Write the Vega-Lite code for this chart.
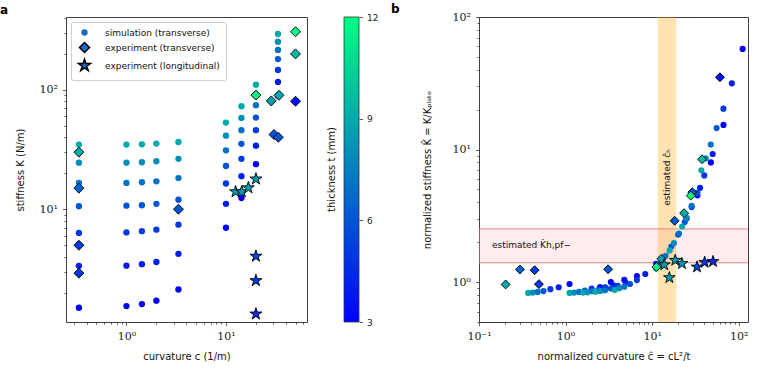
{
  "$schema": "https://vega.github.io/schema/vega-lite/v6.json",
  "background": "white",
  "padding": {"left": -1, "top": 2, "right": 5, "bottom": 5},
  "config": {
    "font": "DejaVu Sans",
    "view": {"stroke": "#404040", "strokeWidth": 1},
    "axis": {
      "domain": false,
      "grid": false,
      "labelFont": "DejaVu Serif",
      "labelFontSize": 11,
      "labelColor": "#222222",
      "labelPadding": 2,
      "labelOverlap": false,
      "labelFlush": false,
      "tickColor": "#333333",
      "tickWidth": 0.8,
      "tickSize": 3.5,
      "titleFont": "DejaVu Sans",
      "titleFontSize": 10,
      "titleFontWeight": "normal",
      "titleColor": "#111111"
    },
    "axisX": {"labelPadding": 5, "titlePadding": 10},
    "axisY": {"labelPadding": 5},
    "legend": {
      "orient": "top-left",
      "offset": 5,
      "padding": 6,
      "strokeColor": "#cfcfcf",
      "fillColor": "rgba(255,255,255,0.85)",
      "cornerRadius": 2,
      "labelFont": "DejaVu Sans",
      "labelFontSize": 9,
      "labelColor": "#111111",
      "labelOffset": 13,
      "rowPadding": 0.5,
      "symbolFillColor": "#1d68c6",
      "symbolBaseFillColor": "#1d68c6"
    }
  },
  "datasets": {
    "pts": [
      {"kind": "simulation (transverse)", "t": 9, "c": 0.333, "K": 34.7, "ch": 0.370, "Kh": 0.829},
      {"kind": "simulation (transverse)", "t": 8, "c": 0.333, "K": 24.5, "ch": 0.417, "Kh": 0.834},
      {"kind": "simulation (transverse)", "t": 7, "c": 0.333, "K": 16.6, "ch": 0.476, "Kh": 0.843},
      {"kind": "simulation (transverse)", "t": 6, "c": 0.333, "K": 10.6, "ch": 0.556, "Kh": 0.855},
      {"kind": "simulation (transverse)", "t": 5, "c": 0.333, "K": 6.34, "ch": 0.667, "Kh": 0.884},
      {"kind": "simulation (transverse)", "t": 4, "c": 0.333, "K": 3.36, "ch": 0.833, "Kh": 0.915},
      {"kind": "simulation (transverse)", "t": 3, "c": 0.333, "K": 1.50, "ch": 1.111, "Kh": 0.968},
      {"kind": "simulation (transverse)", "t": 9, "c": 1.0, "K": 34.7, "ch": 1.111, "Kh": 0.829},
      {"kind": "simulation (transverse)", "t": 8, "c": 1.0, "K": 24.5, "ch": 1.25, "Kh": 0.834},
      {"kind": "simulation (transverse)", "t": 7, "c": 1.0, "K": 16.6, "ch": 1.429, "Kh": 0.843},
      {"kind": "simulation (transverse)", "t": 6, "c": 1.0, "K": 10.7, "ch": 1.667, "Kh": 0.863},
      {"kind": "simulation (transverse)", "t": 5, "c": 1.0, "K": 6.40, "ch": 2.0, "Kh": 0.892},
      {"kind": "simulation (transverse)", "t": 4, "c": 1.0, "K": 3.37, "ch": 2.5, "Kh": 0.917},
      {"kind": "simulation (transverse)", "t": 3, "c": 1.0, "K": 1.55, "ch": 3.333, "Kh": 1.0},
      {"kind": "simulation (transverse)", "t": 9, "c": 1.43, "K": 34.9, "ch": 1.589, "Kh": 0.834},
      {"kind": "simulation (transverse)", "t": 8, "c": 1.43, "K": 24.7, "ch": 1.788, "Kh": 0.840},
      {"kind": "simulation (transverse)", "t": 7, "c": 1.43, "K": 16.8, "ch": 2.043, "Kh": 0.853},
      {"kind": "simulation (transverse)", "t": 6, "c": 1.43, "K": 10.8, "ch": 2.383, "Kh": 0.871},
      {"kind": "simulation (transverse)", "t": 5, "c": 1.43, "K": 6.55, "ch": 2.86, "Kh": 0.913},
      {"kind": "simulation (transverse)", "t": 4, "c": 1.43, "K": 3.47, "ch": 3.575, "Kh": 0.944},
      {"kind": "simulation (transverse)", "t": 3, "c": 1.43, "K": 1.61, "ch": 4.767, "Kh": 1.039},
      {"kind": "simulation (transverse)", "t": 9, "c": 2.0, "K": 35.4, "ch": 2.222, "Kh": 0.846},
      {"kind": "simulation (transverse)", "t": 8, "c": 2.0, "K": 25.2, "ch": 2.5, "Kh": 0.857},
      {"kind": "simulation (transverse)", "t": 7, "c": 2.0, "K": 17.1, "ch": 2.857, "Kh": 0.868},
      {"kind": "simulation (transverse)", "t": 6, "c": 2.0, "K": 11.1, "ch": 3.333, "Kh": 0.895},
      {"kind": "simulation (transverse)", "t": 5, "c": 2.0, "K": 6.74, "ch": 4.0, "Kh": 0.939},
      {"kind": "simulation (transverse)", "t": 4, "c": 2.0, "K": 3.62, "ch": 5.0, "Kh": 0.985},
      {"kind": "simulation (transverse)", "t": 3, "c": 2.0, "K": 1.72, "ch": 6.667, "Kh": 1.110},
      {"kind": "simulation (transverse)", "t": 9, "c": 3.33, "K": 36.5, "ch": 3.70, "Kh": 0.872},
      {"kind": "simulation (transverse)", "t": 8, "c": 3.33, "K": 26.4, "ch": 4.167, "Kh": 0.898},
      {"kind": "simulation (transverse)", "t": 7, "c": 3.33, "K": 18.2, "ch": 4.762, "Kh": 0.924},
      {"kind": "simulation (transverse)", "t": 6, "c": 3.33, "K": 12.0, "ch": 5.556, "Kh": 0.968},
      {"kind": "simulation (transverse)", "t": 5, "c": 3.33, "K": 7.43, "ch": 6.667, "Kh": 1.036},
      {"kind": "simulation (transverse)", "t": 4, "c": 3.33, "K": 4.23, "ch": 8.333, "Kh": 1.151},
      {"kind": "simulation (transverse)", "t": 3, "c": 3.33, "K": 2.13, "ch": 11.11, "Kh": 1.374},
      {"kind": "simulation (transverse)", "t": 9, "c": 10.0, "K": 53.0, "ch": 11.11, "Kh": 1.266},
      {"kind": "simulation (transverse)", "t": 8, "c": 10.0, "K": 41.2, "ch": 12.5, "Kh": 1.402},
      {"kind": "simulation (transverse)", "t": 7, "c": 10.0, "K": 31.1, "ch": 14.29, "Kh": 1.579},
      {"kind": "simulation (transverse)", "t": 6, "c": 10.0, "K": 23.0, "ch": 16.67, "Kh": 1.855},
      {"kind": "simulation (transverse)", "t": 5, "c": 10.0, "K": 16.4, "ch": 20.0, "Kh": 2.286},
      {"kind": "simulation (transverse)", "t": 4, "c": 10.0, "K": 11.1, "ch": 25.0, "Kh": 3.021},
      {"kind": "simulation (transverse)", "t": 3, "c": 10.0, "K": 7.0, "ch": 33.33, "Kh": 4.516},
      {"kind": "simulation (transverse)", "t": 9, "c": 14.3, "K": 72.6, "ch": 15.89, "Kh": 1.735},
      {"kind": "simulation (transverse)", "t": 8, "c": 14.3, "K": 58.0, "ch": 17.88, "Kh": 1.973},
      {"kind": "simulation (transverse)", "t": 7, "c": 14.3, "K": 45.8, "ch": 20.43, "Kh": 2.326},
      {"kind": "simulation (transverse)", "t": 6, "c": 14.3, "K": 35.2, "ch": 23.83, "Kh": 2.839},
      {"kind": "simulation (transverse)", "t": 5, "c": 14.3, "K": 26.4, "ch": 28.6, "Kh": 3.679},
      {"kind": "simulation (transverse)", "t": 4, "c": 14.3, "K": 18.9, "ch": 35.75, "Kh": 5.144},
      {"kind": "simulation (transverse)", "t": 3, "c": 14.3, "K": 12.4, "ch": 47.67, "Kh": 8.0},
      {"kind": "simulation (transverse)", "t": 9, "c": 20.0, "K": 110, "ch": 22.22, "Kh": 2.628},
      {"kind": "simulation (transverse)", "t": 8, "c": 20.0, "K": 89.7, "ch": 25.0, "Kh": 3.052},
      {"kind": "simulation (transverse)", "t": 7, "c": 20.0, "K": 74.1, "ch": 28.57, "Kh": 3.763},
      {"kind": "simulation (transverse)", "t": 6, "c": 20.0, "K": 58.4, "ch": 33.33, "Kh": 4.710},
      {"kind": "simulation (transverse)", "t": 5, "c": 20.0, "K": 45.8, "ch": 40.0, "Kh": 6.383},
      {"kind": "simulation (transverse)", "t": 4, "c": 20.0, "K": 34.0, "ch": 50.0, "Kh": 9.254},
      {"kind": "simulation (transverse)", "t": 3, "c": 20.0, "K": 23.8, "ch": 66.67, "Kh": 15.35},
      {"kind": "simulation (transverse)", "t": 9, "c": 33.3, "K": 292, "ch": 37.0, "Kh": 6.977},
      {"kind": "simulation (transverse)", "t": 8, "c": 33.3, "K": 252, "ch": 41.63, "Kh": 8.574},
      {"kind": "simulation (transverse)", "t": 7, "c": 33.3, "K": 215, "ch": 47.57, "Kh": 10.92},
      {"kind": "simulation (transverse)", "t": 6, "c": 33.3, "K": 180, "ch": 55.5, "Kh": 14.52},
      {"kind": "simulation (transverse)", "t": 5, "c": 33.3, "K": 146, "ch": 66.6, "Kh": 20.35},
      {"kind": "simulation (transverse)", "t": 4, "c": 33.3, "K": 116, "ch": 83.25, "Kh": 31.57},
      {"kind": "simulation (transverse)", "t": 3, "c": 33.3, "K": 89, "ch": 111, "Kh": 57.42},
      {"kind": "experiment (transverse)", "t": 9, "c": 0.333, "K": 30, "ch": 0.203, "Kh": 0.96},
      {"kind": "experiment (transverse)", "t": 6.5, "c": 0.333, "K": 15, "ch": 0.297, "Kh": 1.245},
      {"kind": "experiment (transverse)", "t": 5, "c": 0.333, "K": 5, "ch": 0.439, "Kh": 1.23},
      {"kind": "experiment (transverse)", "t": 5, "c": 0.333, "K": 2.92, "ch": 0.492, "Kh": 0.965},
      {"kind": "experiment (transverse)", "t": 6, "c": 3.33, "K": 10, "ch": 3.10, "Kh": 1.25},
      {"kind": "experiment (transverse)", "t": 11.5, "c": 20, "K": 90, "ch": 11.2, "Kh": 1.30},
      {"kind": "experiment (transverse)", "t": 8.5, "c": 28.5, "K": 80.5, "ch": 12.8, "Kh": 1.50},
      {"kind": "experiment (transverse)", "t": 9, "c": 34.1, "K": 89.7, "ch": 23.4, "Kh": 3.31},
      {"kind": "experiment (transverse)", "t": 6, "c": 30.4, "K": 42.1, "ch": 18.2, "Kh": 2.90},
      {"kind": "experiment (transverse)", "t": 6, "c": 33.6, "K": 40.0, "ch": 29.1, "Kh": 4.77},
      {"kind": "experiment (transverse)", "t": 12, "c": 50, "K": 305, "ch": 27.9, "Kh": 4.49},
      {"kind": "experiment (transverse)", "t": 9.5, "c": 50, "K": 199, "ch": 37.7, "Kh": 8.45},
      {"kind": "experiment (transverse)", "t": 3.5, "c": 50, "K": 80, "ch": 60.7, "Kh": 35.1},
      {"kind": "experiment (longitudinal)", "t": 8.5, "c": 12.5, "K": 14.0, "ch": 13.8, "Kh": 1.35},
      {"kind": "experiment (longitudinal)", "t": 8.5, "c": 14.4, "K": 14.0, "ch": 15.8, "Kh": 1.08},
      {"kind": "experiment (longitudinal)", "t": 8.5, "c": 16.8, "K": 15.1, "ch": 18.5, "Kh": 1.46},
      {"kind": "experiment (longitudinal)", "t": 8.5, "c": 20, "K": 17.9, "ch": 22.1, "Kh": 1.38},
      {"kind": "experiment (longitudinal)", "t": 5.5, "c": 20, "K": 4.05, "ch": 33.0, "Kh": 1.30},
      {"kind": "experiment (longitudinal)", "t": 5, "c": 20, "K": 2.53, "ch": 40.4, "Kh": 1.41},
      {"kind": "experiment (longitudinal)", "t": 4.5, "c": 20, "K": 1.33, "ch": 50.5, "Kh": 1.43}
    ],
    "colorbar": [{"lo": 3, "hi": 12}],
    "khband": [{"lo": 1.40, "hi": 2.52}],
    "khlines": [{"Kh": 1.40}, {"Kh": 2.52}],
    "chband": [{"lo": 11.6, "hi": 19.0}],
    "notes": [
      {"label": "estimated K̂h,pf−", "x": 0.141, "y": 1.92, "angle": 0},
      {"label": "estimated ĉₕ", "x": 14.85, "y": 3.76, "angle": 270}
    ]
  },
  "spacing": 37,
  "bounds": "flush",
  "hconcat": [
    {
      "width": 241,
      "height": 305,
      "title": {"text": "a", "anchor": "start", "frame": "group", "dx": -66, "offset": -5, "font": "DejaVu Sans", "fontSize": 12, "fontWeight": "bold", "color": "black"},
      "data": {"name": "pts"},
      "mark": {"type": "point", "filled": true, "opacity": 1, "strokeWidth": 0.9},
      "encoding": {
        "x": {
          "field": "c", "type": "quantitative",
          "scale": {"type": "log", "domain": [0.247, 65.2], "nice": false},
          "axis": {
            "title": "curvature c (1/m)",
            "values": [0.3, 0.4, 0.5, 0.6, 0.7, 0.8, 0.9, 1, 2, 3, 4, 5, 6, 7, 8, 9, 10, 20, 30, 40, 50, 60],
            "labelExpr": "datum.value === 1 ? '10⁰' : datum.value === 10 ? '10¹' : ''",
            "tickDash": {"condition": {"test": "indexof([0.1, 1, 10, 100], datum.value) < 0", "value": [2, 6]}, "value": []}
          }
        },
        "y": {
          "field": "K", "type": "quantitative",
          "scale": {"type": "log", "domain": [1.14, 405], "nice": false},
          "axis": {
            "title": "stiffness K (N/m)",
            "titlePadding": 14,
            "values": [2, 3, 4, 5, 6, 7, 8, 9, 10, 20, 30, 40, 50, 60, 70, 80, 90, 100, 200, 300, 400],
            "labelExpr": "datum.value === 10 ? '10¹' : datum.value === 100 ? '10²' : ''",
            "tickDash": {"condition": {"test": "indexof([0.1, 1, 10, 100], datum.value) < 0", "value": [2, 6]}, "value": []}
          }
        },
        "color": {
          "field": "t", "type": "quantitative",
          "scale": {"domain": [3, 12], "range": ["#0000ff", "#00ff80"], "interpolate": "rgb"},
          "legend": null
        },
        "shape": {
          "field": "kind", "type": "nominal",
          "scale": {
            "domain": ["simulation (transverse)", "experiment (transverse)", "experiment (longitudinal)"],
            "range": ["circle", "diamond", "M0,-1L0.2245,-0.309L0.951,-0.309L0.363,0.118L0.588,0.809L0,0.382L-0.588,0.809L-0.363,0.118L-0.951,-0.309L-0.2245,-0.309Z"]
          },
          "legend": {"title": null, "symbolFillColor": "#1d68c6"}
        },
        "size": {
          "field": "kind", "type": "nominal",
          "scale": {
            "domain": ["simulation (transverse)", "experiment (transverse)", "experiment (longitudinal)"],
            "range": [40, 160]
          },
          "legend": {"title": null, "symbolFillColor": "#1d68c6"}
        },
        "stroke": {
          "field": "kind", "type": "nominal",
          "scale": {
            "domain": ["simulation (transverse)", "experiment (transverse)", "experiment (longitudinal)"],
            "range": ["rgba(0,0,0,0)", "black", "black"]
          },
          "legend": {"title": null, "symbolFillColor": "#1d68c6"}
        }
      }
    },
    {
      "width": 98,
      "height": 305,
      "view": {"stroke": null},
      "title": {"text": "thickness t (mm)", "orient": "left", "anchor": "middle", "offset": 7, "font": "DejaVu Sans", "fontSize": 10, "fontWeight": "normal", "color": "#111111"},
      "data": {"name": "colorbar"},
      "mark": {
        "type": "rect",
        "stroke": "#333333",
        "strokeWidth": 0.8,
        "color": {
          "gradient": "linear",
          "x1": 0, "y1": 1, "x2": 0, "y2": 0,
          "stops": [{"offset": 0, "color": "#0000ff"}, {"offset": 1, "color": "#00ff80"}]
        }
      },
      "encoding": {
        "x": {"datum": 0, "type": "quantitative", "scale": {"domain": [0, 6.533], "nice": false, "zero": false}, "axis": null},
        "x2": {"datum": 1},
        "y": {
          "field": "lo", "type": "quantitative",
          "scale": {"domain": [3, 12], "nice": false, "zero": false},
          "axis": {
            "orient": "right", "offset": -83, "title": null,
            "values": [3, 6, 9, 12],
            "labelFont": "DejaVu Sans", "labelFontSize": 9, "labelPadding": 4
          }
        },
        "y2": {"field": "hi"}
      }
    },
    {
      "width": 269,
      "height": 305,
      "title": {"text": "b", "anchor": "start", "frame": "group", "dx": -88, "offset": -5, "font": "DejaVu Sans", "fontSize": 12, "fontWeight": "bold", "color": "black"},
      "layer": [
        {
          "data": {"name": "khband"},
          "mark": {"type": "rect", "fill": "pink", "fillOpacity": 0.3},
          "encoding": {
            "x": {"datum": 0.1, "type": "quantitative"},
            "x2": {"datum": 128},
            "y": {"field": "lo", "type": "quantitative"},
            "y2": {"field": "hi"}
          }
        },
        {
          "data": {"name": "chband"},
          "mark": {"type": "rect", "fill": "orange", "fillOpacity": 0.3},
          "encoding": {
            "x": {"field": "lo", "type": "quantitative"},
            "x2": {"field": "hi"},
            "y": {"datum": 0.5, "type": "quantitative"},
            "y2": {"datum": 100}
          }
        },
        {
          "data": {"name": "khlines"},
          "mark": {"type": "rule", "color": "#f08080", "strokeWidth": 1},
          "encoding": {"y": {"field": "Kh", "type": "quantitative"}}
        },
        {
          "data": {"name": "pts"},
          "encoding": {
            "x": {"field": "ch", "type": "quantitative"},
            "y": {"field": "Kh", "type": "quantitative"},
            "color": {
              "field": "t", "type": "quantitative",
              "scale": {"domain": [3, 12], "range": ["#0000ff", "#00ff80"], "interpolate": "rgb"},
              "legend": null
            }
          },
          "layer": [
            {
              "transform": [{"filter": "datum.kind === 'simulation (transverse)'"}],
              "mark": {"type": "point", "shape": "circle", "filled": true, "opacity": 1, "size": 38, "strokeWidth": 0}
            },
            {
              "transform": [{"filter": "datum.kind === 'experiment (transverse)'"}],
              "mark": {"type": "point", "shape": "diamond", "filled": true, "opacity": 1, "size": 80, "stroke": "black", "strokeWidth": 0.9}
            },
            {
              "transform": [{"filter": "datum.kind === 'experiment (longitudinal)'"}],
              "mark": {"type": "point", "shape": "M0,-1L0.2245,-0.309L0.951,-0.309L0.363,0.118L0.588,0.809L0,0.382L-0.588,0.809L-0.363,0.118L-0.951,-0.309L-0.2245,-0.309Z", "filled": true, "opacity": 1, "size": 150, "stroke": "black", "strokeWidth": 0.9}
            }
          ]
        },
        {
          "data": {"name": "notes"},
          "mark": {"type": "text", "align": "left", "baseline": "middle", "font": "DejaVu Sans", "fontSize": 9, "color": "#111111"},
          "encoding": {
            "x": {"field": "x", "type": "quantitative"},
            "y": {"field": "y", "type": "quantitative"},
            "text": {"field": "label"},
            "angle": {"field": "angle", "type": "quantitative", "scale": null}
          }
        }
      ],
      "encoding": {
        "x": {
          "type": "quantitative",
          "scale": {"type": "log", "domain": [0.1, 128], "nice": false},
          "axis": {
            "title": "normalized curvature ĉ = cL²/t",
            "values": [0.1, 0.2, 0.3, 0.4, 0.5, 0.6, 0.7, 0.8, 0.9, 1, 2, 3, 4, 5, 6, 7, 8, 9, 10, 20, 30, 40, 50, 60, 70, 80, 90, 100],
            "labelExpr": "datum.value === 0.1 ? '10⁻¹' : datum.value === 1 ? '10⁰' : datum.value === 10 ? '10¹' : datum.value === 100 ? '10²' : ''",
            "tickDash": {"condition": {"test": "indexof([0.1, 1, 10, 100], datum.value) < 0", "value": [2, 6]}, "value": []}
          }
        },
        "y": {
          "type": "quantitative",
          "scale": {"type": "log", "domain": [0.5, 100], "nice": false},
          "axis": {
            "title": "normalized stiffness K̂ = K/Kₚₗₐₜₑ",
            "titlePadding": 20,
            "values": [0.5, 0.6, 0.7, 0.8, 0.9, 1, 2, 3, 4, 5, 6, 7, 8, 9, 10, 20, 30, 40, 50, 60, 70, 80, 90, 100],
            "labelExpr": "datum.value === 1 ? '10⁰' : datum.value === 10 ? '10¹' : datum.value === 100 ? '10²' : ''",
            "tickDash": {"condition": {"test": "indexof([0.1, 1, 10, 100], datum.value) < 0", "value": [2, 6]}, "value": []}
          }
        }
      }
    }
  ]
}
